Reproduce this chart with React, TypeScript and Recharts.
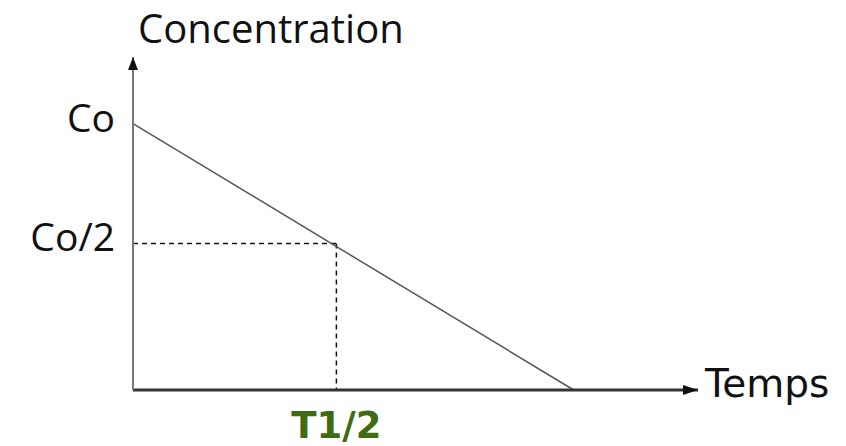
import React from 'react';
import { LineChart, Line, XAxis, YAxis, ReferenceLine, ReferenceDot } from 'recharts';

// decay line: concentration vs time (arbitrary units)
const decayPoints = [
  { t: 0, c: 80 },
  { t: 78, c: 0 },
];
const halfT = 36;
const halfC = 44;
const axisMaxT = 100;
const axisMaxC = 100;
const yTicks = [80, 44];
const yTickLabels: Record<number, string> = { 80: 'Co', 44: 'Co/2' };
const xTicks = [36];
const xTickLabels: Record<number, string> = { 36: 'T1/2' };

const W = 846;
const H = 446;

const UpArrow = ({ cx, cy }: any) => (
  <path d={`M${cx},${cy} L${cx - 5},${cy + 13} L${cx + 5},${cy + 13} Z`} fill="#111" />
);
const RightArrow = ({ cx, cy }: any) => (
  <path d={`M${cx},${cy} L${cx - 15},${cy - 5} L${cx - 15},${cy + 5} Z`} fill="#111" />
);

const YTick = ({ x, y, payload }: any) => (
  <text x={x} y={y} dy={8} textAnchor="end" fontFamily="'Open Sans', sans-serif" fontSize={39} fill="#111">
    {yTickLabels[payload.value]}
  </text>
);

const XTick = ({ x, y, payload }: any) => (
  <text x={x} y={y} dy={40} textAnchor="middle" fontFamily="'DejaVu Sans', sans-serif" fontWeight="bold" fontSize={37} fill="#3f6b12">
    {xTickLabels[payload.value]}
  </text>
);

export default function App() {
  return (
    <div style={{ position: 'absolute', left: 0, top: 0, width: W, height: H, background: '#fff' }}>
      <LineChart width={W} height={H} data={decayPoints} margin={{ top: 57, right: 148, bottom: 6, left: 73 }}>
        <XAxis
          dataKey="t" type="number" domain={[0, axisMaxT]} ticks={xTicks}
          tick={<XTick />} tickLine={false} height={50}
          axisLine={{ stroke: '#333', strokeWidth: 3 }}
        />
        <YAxis
          type="number" domain={[0, axisMaxC]} ticks={yTicks}
          tick={<YTick />} tickLine={false} width={60} tickMargin={12}
          axisLine={{ stroke: '#777', strokeWidth: 2 }}
        />
        <ReferenceLine segment={[{ x: 0, y: halfC }, { x: halfT, y: halfC }]} stroke="#111" strokeWidth={1.5} strokeDasharray="5 4" />
        <ReferenceLine segment={[{ x: halfT, y: halfC }, { x: halfT, y: 0 }]} stroke="#111" strokeWidth={1.5} strokeDasharray="5 4" />
        <Line dataKey="c" stroke="#555" strokeWidth={1.5} dot={false} isAnimationActive={false} />
        <ReferenceDot x={0} y={axisMaxC} ifOverflow="visible" shape={<UpArrow />} />
        <ReferenceDot x={axisMaxT} y={0} ifOverflow="visible" shape={<RightArrow />} />
      </LineChart>
      <div style={{ position: 'absolute', left: 138, top: 0, fontFamily: "'Open Sans', sans-serif", fontSize: 40, color: '#111', whiteSpace: 'nowrap' }}>
        Concentration
      </div>
      <div style={{ position: 'absolute', left: 705, top: 361, fontFamily: "'DejaVu Sans', sans-serif", fontSize: 39, color: '#111', whiteSpace: 'nowrap' }}>
        Temps
      </div>
    </div>
  );
}
